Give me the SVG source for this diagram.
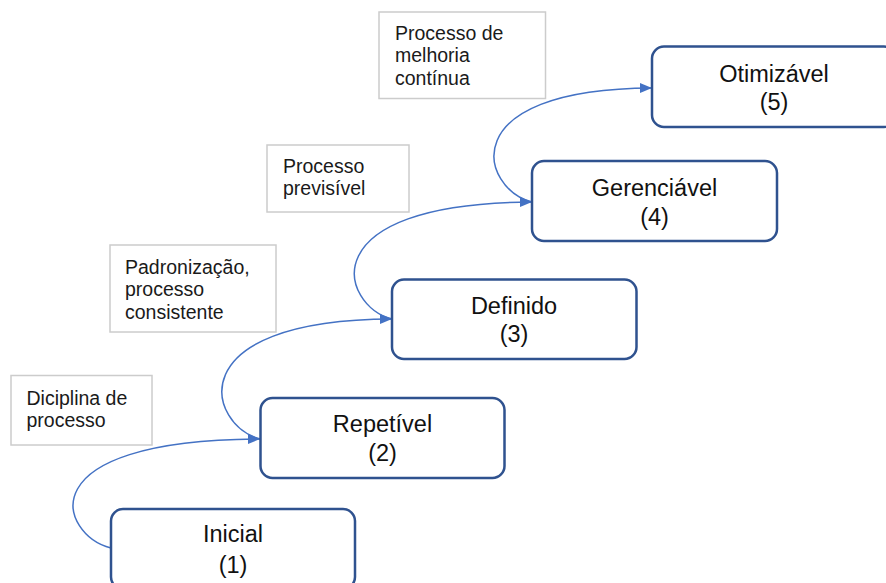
<svg xmlns="http://www.w3.org/2000/svg" width="886" height="583" viewBox="0 0 886 583">
  <style>
    .node rect { fill: #ffffff; stroke: #2f528f; stroke-width: 2.5; }
    .node text { font-family: "Liberation Sans", Arial, sans-serif; font-size: 23.5px; fill: #111111; text-anchor: middle; }
    .label rect { fill: #ffffff; stroke: #cccccc; stroke-width: 1.5; }
    .label text { font-family: "Liberation Sans", Arial, sans-serif; font-size: 19.5px; fill: #1a1a1a; }
    .conn { fill: none; stroke: #4472c4; stroke-width: 1.5; marker-end: url(#arrow); }
  </style>
  <defs>
    <marker id="arrow" markerUnits="userSpaceOnUse" markerWidth="14" markerHeight="12" refX="12" refY="5" orient="auto">
      <path d="M0,0 L12,5 L0,10 Z" fill="#4472c4"/>
    </marker>
  </defs>
  <rect width="886" height="583" fill="#ffffff"/>

  <!-- side notes -->
  <g id="note-melhoria" class="label">
    <rect x="379" y="12" width="166.5" height="86.5"/>
    <text x="395" y="39.5">Processo de</text>
    <text x="395" y="62">melhoria</text>
    <text x="395" y="84.5">contínua</text>
  </g>
  <g id="note-previsivel" class="label">
    <rect x="267" y="145" width="142" height="67"/>
    <text x="283" y="172.5">Processo</text>
    <text x="283" y="195">previsível</text>
  </g>
  <g id="note-padronizacao" class="label">
    <rect x="110" y="245" width="166" height="87"/>
    <text x="125" y="273.5">Padronização,</text>
    <text x="125" y="296">processo</text>
    <text x="125" y="318.5">consistente</text>
  </g>
  <g id="note-disciplina" class="label">
    <rect x="11" y="375.5" width="141" height="69.5"/>
    <text x="26.5" y="404.5">Diciplina de</text>
    <text x="26.5" y="427">processo</text>
  </g>

  <!-- connectors between levels -->
  <g id="connectors">
    <path class="conn" d="M111,548 C60,535 23,440 260,439"/>
    <path class="conn" d="M260,439 C209,426 175,320 392,319"/>
    <path class="conn" d="M392,319 C341,306 307,203 532,202"/>
    <path class="conn" d="M532,202 C481,189 450,89 652,88"/>
  </g>

  <!-- maturity levels -->
  <g id="level-1" class="node">
    <rect x="111" y="509" width="244" height="80" rx="12"/>
    <text x="233" y="542">Inicial</text>
    <text x="233" y="572.5">(1)</text>
  </g>
  <g id="level-2" class="node">
    <rect x="260.5" y="398" width="244" height="80" rx="12"/>
    <text x="382.5" y="432">Repetível</text>
    <text x="382.5" y="461">(2)</text>
  </g>
  <g id="level-3" class="node">
    <rect x="392" y="279.5" width="244.5" height="79.5" rx="12"/>
    <text x="514" y="313.5">Definido</text>
    <text x="514" y="342">(3)</text>
  </g>
  <g id="level-4" class="node">
    <rect x="532" y="161" width="245" height="80" rx="12"/>
    <text x="654.5" y="195.5">Gerenciável</text>
    <text x="654.5" y="225">(4)</text>
  </g>
  <g id="level-5" class="node">
    <rect x="652" y="46.5" width="244" height="80.5" rx="12"/>
    <text x="774" y="81.5">Otimizável</text>
    <text x="774" y="109.5">(5)</text>
  </g>
</svg>
